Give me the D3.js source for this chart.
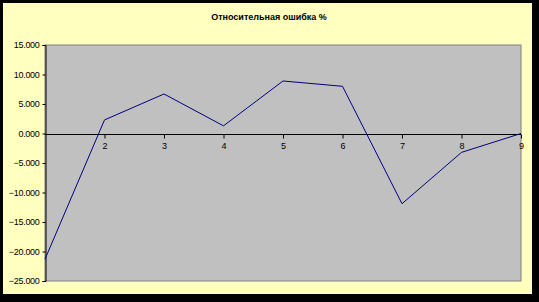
<!DOCTYPE html>
<html><head><meta charset="utf-8">
<script src="https://cdn.jsdelivr.net/npm/d3@7"></script>
<style>body{margin:0;background:#000;}svg{display:block;}</style>
</head><body>
<svg id="c" width="539" height="302"></svg>
<script>
const categories = [1, 2, 3, 4, 5, 6, 7, 8, 9];
const values = [-21.3, 2.3, 6.7, 1.3, 8.9, 8.0, -11.9, -3.2, 0.0];
const yTicks = [15, 10, 5, 0, -5, -10, -15, -20, -25];
const xTickLabels = [2, 3, 4, 5, 6, 7, 8, 9];
const title = "Относительная ошибка %";

const svg = d3.select("#c");
svg.append("rect").attr("x",0).attr("y",0).attr("width",539).attr("height",302).attr("fill","#000");
svg.append("rect").attr("x",3).attr("y",3).attr("width",529).attr("height",291).attr("fill","#FFFFC0");

const L=45, R=521, T=45, B=281;
const x = d3.scaleLinear().domain([1,9]).range([L,R]);
const y = d3.scaleLinear().domain([-25,15]).range([B,T]);

svg.append("rect").attr("x",L).attr("y",T).attr("width",R-L).attr("height",B-T)
  .attr("fill","#C0C0C0").attr("stroke","#808080").attr("stroke-width",1);

svg.append("text").attr("x",269).attr("y",20).attr("text-anchor","middle")
  .attr("font-family","Liberation Sans, Arial, sans-serif").attr("font-size",9).attr("font-weight","bold")
  .text(title);

const yAxis = d3.axisLeft(y).tickValues(yTicks).tickSize(3).tickPadding(3).tickFormat(d3.format(".3f"));
const gy = svg.append("g").attr("transform",`translate(${L+0.5},0)`).call(yAxis);
gy.select(".domain").attr("stroke","#000");
gy.selectAll(".tick line").attr("stroke","#000");
gy.selectAll("text").attr("font-family","Liberation Sans, Arial, sans-serif").attr("font-size",9).attr("fill","#000").attr("letter-spacing","-0.3");

const xAxis = d3.axisBottom(x).tickValues(xTickLabels).tickSize(4).tickPadding(4).tickFormat(d3.format("d"));
const gx = svg.append("g").attr("transform",`translate(0,${Math.round(y(0))+0.5})`).call(xAxis);
gx.select(".domain").attr("stroke","#000").attr("d",`M${L},0H${R}`);
gx.selectAll(".tick line").attr("stroke","#000");
gx.selectAll("text").attr("font-family","Liberation Sans, Arial, sans-serif").attr("font-size",9).attr("fill","#000");

const line = d3.line().x((d,i)=>x(categories[i])).y(d=>y(d));
svg.append("path").datum(values).attr("d",line).attr("fill","none").attr("stroke","#000080").attr("stroke-width",1);
</script>
</body></html>
